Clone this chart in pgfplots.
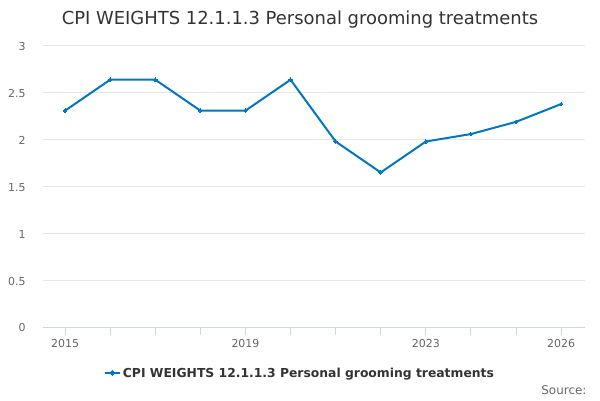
\documentclass[border=0pt]{standalone}
\usepackage{pgfplots}
\pgfplotsset{compat=1.18}
\usepackage{fontspec}
\setmainfont{DejaVu Sans}
\definecolor{lineblue}{RGB}{0,119,192}
\definecolor{gridgray}{RGB}{230,230,230}
\definecolor{axisline}{RGB}{204,214,235}
\definecolor{labelgray}{RGB}{102,102,102}
\definecolor{titlegray}{RGB}{51,51,51}
\begin{document}
\begin{tikzpicture}[x=1bp,y=1bp]
\useasboundingbox (0,0) rectangle (600,400);
\node[text=titlegray, font=\fontsize{18}{21}\selectfont] at (300,380) {CPI WEIGHTS 12.1.1.3 Personal grooming treatments};
\node[text=labelgray, font=\fontsize{12}{14}\selectfont, anchor=east] at (590,10) {Source:};
\begin{axis}[
  at={(43bp,73bp)}, anchor=south west,
  scale only axis, width=542bp, height=281bp,
  xmin=2014.51, xmax=2026.53, ymin=0, ymax=3,
  ytick={0,0.5,1,1.5,2,2.5,3},
  yticklabels={0,0.5,1,1.5,2,2.5,3},
  xtick={2015,2016,2017,2018,2019,2020,2021,2022,2023,2024,2025,2026},
  xticklabels={2015,,,,2019,,,,2023,,,2026},
  tick label style={font=\fontsize{11}{13}\selectfont, text=labelgray},
  ymajorgrids, grid style={gridgray, line width=1bp},
  axis x line*=bottom, axis y line*=left,
  y axis line style={draw=none},
  x axis line style={axisline, line width=1bp, -},
  xtick style={axisline, line width=1bp},
  ytick style={draw=none},
  tick align=outside,
  major tick length=8bp,
  xticklabel style={yshift=-1bp},
  yticklabel style={xshift=-6bp, yshift=-1bp},
  legend style={at={(0.474,-0.164)}, anchor=center, draw=none, fill=none,
    font=\bfseries\fontsize{12.4}{15}\selectfont, text=titlegray},
  legend image code/.code={\draw[#1] (0bp,0bp) -- (15bp,0bp); \fill[lineblue] (7.5bp,0bp) circle (1.6bp);},
  clip=false,
]
\addplot[color=lineblue, line width=2bp, mark=*, mark size=1.8bp, mark options={fill=lineblue, draw=lineblue, line width=0pt}] coordinates {
(2015,2.31) (2016,2.64) (2017,2.64) (2018,2.31) (2019,2.31) (2020,2.64)
(2021,1.98) (2022,1.65) (2023,1.98) (2024,2.06) (2025,2.19) (2026,2.38)
};
\addlegendentry{CPI WEIGHTS 12.1.1.3 Personal grooming treatments}
\end{axis}
\end{tikzpicture}
\end{document}
